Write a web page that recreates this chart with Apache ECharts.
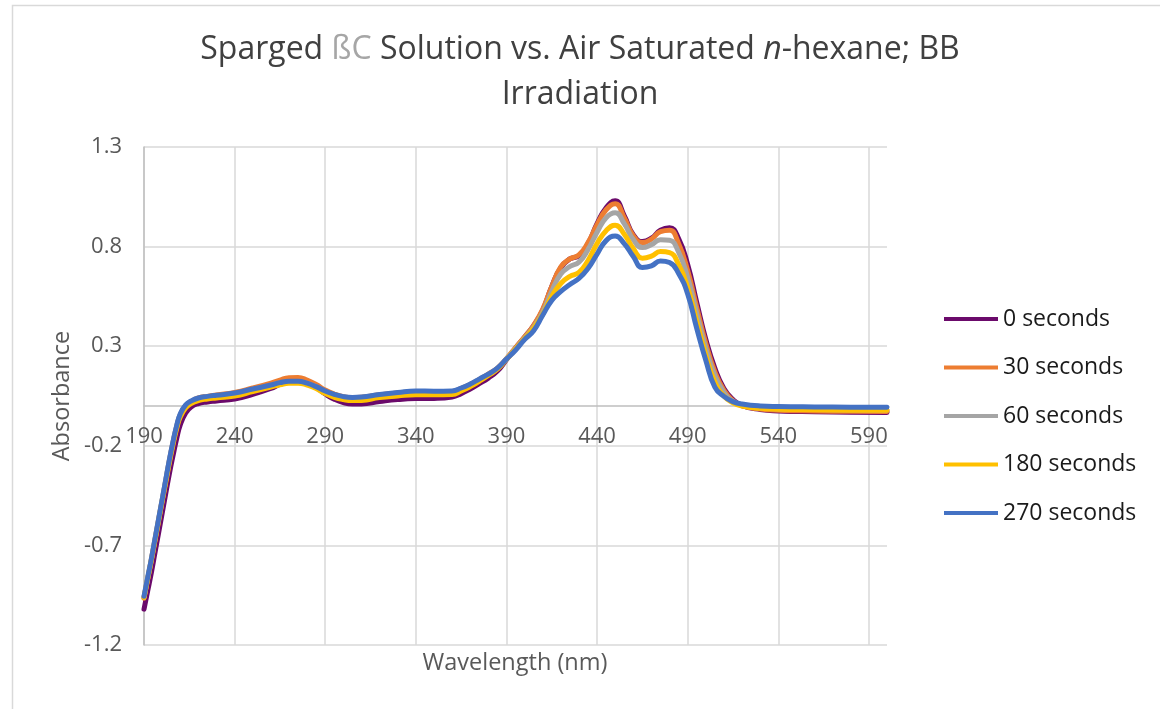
<!DOCTYPE html>
<html>
<head>
<meta charset="utf-8">
<script src="https://cdn.jsdelivr.net/npm/echarts@6/dist/echarts.min.js"></script>
<style>
  html, body { margin: 0; padding: 0; background: #fff; }
  #chart { width: 1160px; height: 709px; }
</style>
</head>
<body>
<div id="chart"></div>
<script>
// Wavelength grid (nm) shared by every spectrum
const wavelengths = [190,192,194,196,198,200,202,204,206,208,210,213,216,220,225,230,240,250,260,265,270,275,280,285,290,295,300,305,310,320,330,340,350,360,365,370,375,380,385,390,395,400,405,410,415,420,425,430,435,440,445,450,455,460,465,470,475,480,485,490,495,500,505,510,515,520,530,540,560,580,600];

// Absorbance after each irradiation time
const abs0s = [-1.02,-0.93,-0.84,-0.74,-0.64,-0.54,-0.44,-0.34,-0.25,-0.165,-0.095,-0.035,-0.005,0.012,0.02,0.025,0.035,0.058,0.088,0.108,0.122,0.125,0.115,0.092,0.06,0.034,0.017,0.01,0.01,0.022,0.032,0.037,0.038,0.045,0.062,0.085,0.112,0.14,0.175,0.232,0.29,0.345,0.403,0.48,0.6,0.695,0.738,0.755,0.815,0.915,0.995,1.03,0.955,0.86,0.825,0.842,0.882,0.895,0.84,0.71,0.52,0.335,0.19,0.088,0.032,0.002,-0.018,-0.025,-0.029,-0.031,-0.033];
const abs30s = [-0.965,-0.87,-0.775,-0.675,-0.575,-0.475,-0.375,-0.275,-0.185,-0.105,-0.045,0.0,0.022,0.04,0.048,0.055,0.068,0.09,0.115,0.13,0.142,0.143,0.13,0.108,0.08,0.06,0.047,0.042,0.044,0.056,0.065,0.07,0.07,0.072,0.088,0.108,0.133,0.16,0.19,0.238,0.292,0.347,0.405,0.485,0.6,0.698,0.738,0.758,0.82,0.91,0.985,1.015,0.945,0.855,0.82,0.838,0.875,0.882,0.815,0.68,0.495,0.315,0.172,0.078,0.027,0.0,-0.015,-0.021,-0.025,-0.027,-0.028];
const abs60s = [-0.96,-0.866,-0.772,-0.672,-0.572,-0.472,-0.372,-0.272,-0.182,-0.102,-0.042,0.002,0.022,0.037,0.045,0.051,0.062,0.083,0.103,0.115,0.122,0.122,0.113,0.096,0.072,0.055,0.044,0.04,0.042,0.055,0.065,0.072,0.071,0.072,0.087,0.107,0.132,0.158,0.188,0.236,0.288,0.34,0.395,0.47,0.575,0.662,0.7,0.722,0.785,0.872,0.945,0.97,0.915,0.835,0.795,0.81,0.835,0.832,0.772,0.645,0.465,0.29,0.152,0.068,0.023,0.004,-0.01,-0.015,-0.018,-0.02,-0.021];
const abs180s = [-0.962,-0.87,-0.778,-0.68,-0.58,-0.48,-0.385,-0.285,-0.195,-0.115,-0.055,-0.01,0.012,0.027,0.035,0.04,0.05,0.072,0.095,0.106,0.114,0.114,0.105,0.088,0.062,0.043,0.032,0.027,0.028,0.042,0.05,0.056,0.056,0.058,0.075,0.097,0.124,0.153,0.185,0.234,0.285,0.337,0.39,0.46,0.55,0.615,0.65,0.67,0.73,0.815,0.88,0.907,0.862,0.79,0.742,0.752,0.775,0.77,0.71,0.595,0.425,0.255,0.12,0.05,0.016,0.0,-0.012,-0.016,-0.019,-0.021,-0.022];
const abs270s = [-0.955,-0.862,-0.77,-0.67,-0.57,-0.47,-0.37,-0.27,-0.18,-0.1,-0.04,0.005,0.025,0.04,0.048,0.054,0.065,0.085,0.105,0.117,0.124,0.124,0.115,0.097,0.075,0.058,0.047,0.043,0.045,0.058,0.068,0.075,0.074,0.075,0.09,0.11,0.135,0.16,0.19,0.235,0.28,0.333,0.378,0.455,0.53,0.575,0.61,0.64,0.69,0.762,0.83,0.853,0.815,0.75,0.695,0.703,0.728,0.72,0.665,0.562,0.39,0.23,0.095,0.048,0.022,0.01,0.0,-0.003,-0.005,-0.006,-0.007];

const seriesNames = ['0 seconds', '30 seconds', '60 seconds', '180 seconds', '270 seconds'];
const seriesValues = [abs0s, abs30s, abs60s, abs180s, abs270s];
const seriesColors = ['#6b0a6b', '#ED7D31', '#A5A5A5', '#FFC000', '#4472C4'];

// Axis tick positions
const xTickValues = [190, 240, 290, 340, 390, 440, 490, 540, 590];
const yTickValues = [-1.2, -0.7, -0.2, 0.3, 0.8, 1.3];

const FONT = '"Open Sans", "Noto Sans", sans-serif';
const GRID_TOP = 147, GRID_BOTTOM_PX = 645;
const Y_MIN = -1.2, Y_MAX = 1.3;
// pixel distance from the plot bottom up to the zero line, where the wavelength axis sits
const zeroOffset = (0 - Y_MIN) / (Y_MAX - Y_MIN) * (GRID_BOTTOM_PX - GRID_TOP);

const chart = echarts.init(document.getElementById('chart'), null, { renderer: 'canvas' });

const titleStyle = { fontFamily: FONT, fontSize: 32, fontWeight: 'normal', color: '#404040', lineHeight: 45 };

chart.setOption({
  animation: false,
  backgroundColor: '#ffffff',
  title: {
    left: 'center',
    top: 22,
    text: '{a|Sparged }{g|ßC}{a| Solution vs. Air Saturated }{i|n}{a|-hexane; BB}\n{a|Irradiation}',
    textStyle: {
      fontFamily: FONT,
      fontWeight: 'normal',
      rich: {
        a: titleStyle,
        g: Object.assign({}, titleStyle, { color: '#a6a6a6' }),
        i: Object.assign({}, titleStyle, { fontStyle: 'italic' })
      }
    }
  },
  legend: {
    orient: 'vertical',
    left: 944,
    top: 307,
    padding: 0,
    itemWidth: 54,
    itemHeight: 4,
    itemGap: 24.5,
    icon: 'rect',
    data: seriesNames,
    textStyle: { fontFamily: FONT, fontSize: 23, lineHeight: 24, color: '#1a1a1a' }
  },
  grid: { left: 144, right: 273, top: GRID_TOP, bottom: 709 - GRID_BOTTOM_PX, containLabel: false },
  xAxis: {
    type: 'value',
    min: 190,
    max: 600,
    offset: -zeroOffset,
    axisLine: { show: true, onZero: false, lineStyle: { color: '#bfbfbf', width: 1.5 } },
    axisTick: { show: false, customValues: xTickValues },
    axisLabel: { customValues: xTickValues, margin: 20, fontFamily: FONT, fontSize: 22, color: '#595959' },
    splitLine: { show: true, lineStyle: { color: '#d9d9d9', width: 1.5 } }
  },
  yAxis: {
    type: 'value',
    min: Y_MIN,
    max: Y_MAX,
    axisLine: { show: true, lineStyle: { color: '#bfbfbf', width: 1.5 } },
    axisTick: { show: false, customValues: yTickValues },
    axisLabel: { customValues: yTickValues, margin: 22, fontFamily: FONT, fontSize: 22, color: '#595959',
                 formatter: v => v.toFixed(1) },
    splitLine: { show: true, lineStyle: { color: '#d9d9d9', width: 1.5 } }
  },
  graphic: [
    { type: 'rect', left: 10, top: 3, shape: { width: 1200, height: 760 },
      style: { fill: 'none', stroke: '#d9d9d9', lineWidth: 1.5 }, silent: true },
    { type: 'text', x: 62, y: 396, rotation: Math.PI / 2,
      style: { text: 'Absorbance', fontFamily: FONT, fontSize: 23.5, fill: '#595959', align: 'center', verticalAlign: 'middle' } },
    { type: 'text', x: 515, y: 663,
      style: { text: 'Wavelength (nm)', fontFamily: FONT, fontSize: 23.5, fill: '#595959', align: 'center', verticalAlign: 'middle' } }
  ],
  series: seriesNames.map((name, k) => ({
    name: name,
    type: 'line',
    data: wavelengths.map((w, i) => [w, seriesValues[k][i]]),
    showSymbol: false,
    symbol: 'none',
    smooth: 0.5,
    color: seriesColors[k],
    lineStyle: { width: 5, color: seriesColors[k], cap: 'round', join: 'round' },
    z: 2 + k
  }))
});
</script>
</body>
</html>
